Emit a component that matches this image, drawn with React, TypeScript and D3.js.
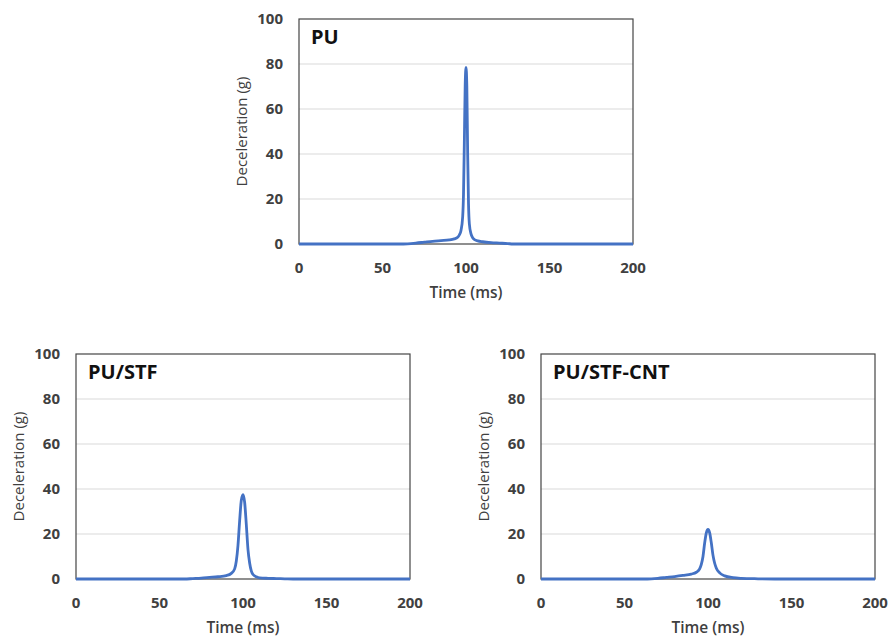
import React from "react";
import * as d3 from "d3";

// time (ms) / deceleration (g)
const puTime = [0, 60, 65, 70, 75, 80, 85, 90, 93, 95, 96, 97, 98, 98.5, 99, 99.5, 100, 100.5, 101, 101.5, 102, 103, 104, 105, 107, 110, 115, 120, 125, 128, 200];
const puDecel = [0, 0, 0.1, 0.4, 0.8, 1.2, 1.5, 1.8, 2.3, 3, 4, 6, 12, 22, 45, 70, 78.5, 70, 40, 18, 9, 4.5, 2.8, 2, 1.4, 1, 0.6, 0.4, 0.2, 0, 0];

const stfTime = [0, 65, 70, 75, 80, 85, 90, 93, 95, 96, 97, 98, 99, 100, 101, 102, 103, 104, 105, 106, 108, 110, 115, 120, 125, 130, 200];
const stfDecel = [0, 0, 0.2, 0.4, 0.7, 1, 1.5, 2.5, 4.5, 8, 15, 26, 35, 37.5, 34, 24, 13, 7, 3.5, 2, 1, 0.5, 0.3, 0.2, 0.1, 0, 0];

const cntTime = [0, 62, 66, 70, 75, 80, 85, 90, 93, 95, 96, 97, 98, 99, 100, 101, 102, 103, 104, 105, 107, 110, 115, 120, 130, 140, 200];
const cntDecel = [0, 0, 0.1, 0.3, 0.7, 1.1, 1.6, 2.2, 3, 4.5, 6.5, 10, 16, 20.5, 22, 20.5, 16, 10.5, 7, 4.8, 2.7, 1.4, 0.6, 0.3, 0.1, 0, 0];

const xTicks = [0, 50, 100, 150, 200];
const yTicks = [0, 20, 40, 60, 80, 100];
const panelNames = ["PU", "PU/STF", "PU/STF-CNT"];

const W = 892;
const H = 638;
const BLUE = "#4472c4";
const FONT = "'Open Sans', 'DejaVu Sans', sans-serif";

type PanelProps = { name: string; t: number[]; v: number[]; left: number; top: number };

function Panel({ name, t, v, left, top }: PanelProps) {
  const w = 334;
  const h = 225;
  const x = d3.scaleLinear().domain([0, 200]).range([left, left + w]);
  const y = d3.scaleLinear().domain([0, 100]).range([top + h, top]);
  const line = d3
    .line<number>()
    .x((_, i) => x(t[i]))
    .y(d => y(d))
    .curve(d3.curveMonotoneX);

  return (
    <g>
      {yTicks.filter(d => d > 0 && d < 100).map(d => (
        <line key={d} x1={left} x2={left + w} y1={y(d)} y2={y(d)} stroke="#d9d9d9" strokeWidth={1} />
      ))}
      <rect x={left} y={top} width={w} height={h} fill="none" stroke="#454545" strokeWidth={1.2} />
      <path d={line(v) ?? ""} fill="none" stroke={BLUE} strokeWidth={2.8} strokeLinejoin="round" />
      {yTicks.map(d => (
        <text key={d} x={left - 16} y={y(d)} dy="0.35em" textAnchor="end" fontSize={15} fontWeight="bold" fill="#404040">
          {d}
        </text>
      ))}
      {xTicks.map(d => (
        <text key={d} x={x(d)} y={top + h + 24} dy="0.35em" textAnchor="middle" fontSize={15} fontWeight="bold" fill="#404040">
          {d}
        </text>
      ))}
      <text x={x(100)} y={top + h + 49} dy="0.35em" textAnchor="middle" fontSize={15.5} fontWeight={600} fill="#404040">
        Time (ms)
      </text>
      <text
        transform={`translate(${left - 57},${y(50)}) rotate(-90)`}
        dy="0.35em"
        textAnchor="middle"
        fontSize={15}
        fontWeight={500}
        fill="#404040"
      >
        Deceleration (g)
      </text>
      <text x={left + 12} y={top + 25} fontSize={20} fontWeight="bold" fill="#111">
        {name}
      </text>
    </g>
  );
}

export default function App() {
  return (
    <svg width={W} height={H} style={{ position: "absolute", left: 0, top: 0, background: "#fff" }} fontFamily={FONT}>
      <Panel name={panelNames[0]} t={puTime} v={puDecel} left={299} top={19} />
      <Panel name={panelNames[1]} t={stfTime} v={stfDecel} left={76} top={354} />
      <Panel name={panelNames[2]} t={cntTime} v={cntDecel} left={541} top={354} />
    </svg>
  );
}
